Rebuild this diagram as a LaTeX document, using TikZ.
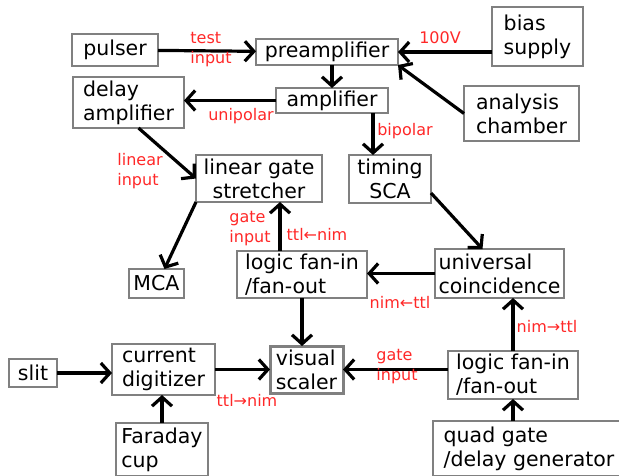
\documentclass[tikz,border=0pt]{standalone}
\usepackage{fontspec}
\setmainfont{DejaVu Sans}
\usetikzlibrary{arrows.meta,calc}
\definecolor{boxgray}{RGB}{128,128,128}
\definecolor{lblred}{RGB}{255,40,40}
\tikzset{
  box/.style={draw=boxgray, line width=2pt, fill=white, align=left, inner sep=0pt, outer sep=0pt, font=\fontsize{20.5}{24}\selectfont},
  arr/.style={-{Straight Barb[length=9pt, width=20pt]}, line width=3.2pt, draw=black},
  lbl/.style={text=lblred, align=left, inner sep=0pt, font=\fontsize{16}{20}\selectfont},
}
\begin{document}
\begin{tikzpicture}[x=1pt, y=-1pt]
    \useasboundingbox (0,0) rectangle (619,476);
    % boxes, top part
    \node[box, minimum width=86pt, minimum height=32pt] (pulser) at (115,50) {pulser};
    \node[box, minimum width=142pt, minimum height=26pt] (preamp) at (327,52) {preamplifier};
    \node[box, minimum width=91pt, minimum height=59pt] (bias) at (537.5,36.5) {bias\\supply};
    \node[box, minimum width=115pt, minimum height=55pt] (chamber) at (521.5,113.5) {analysis\\chamber};
    \node[box, minimum width=112pt, minimum height=25pt] (amp) at (332,100.5) {amplifier};
    \node[box, minimum width=111pt, minimum height=51pt] (delay) at (128.5,102.5) {delay\\amplifier};
    \node[box, align=center, minimum width=126pt, minimum height=47pt] (stretch) at (259,178.5) {linear gate\\stretcher};
    \node[box, align=center, minimum width=82pt, minimum height=48pt] (sca) at (390,179) {timing\\SCA};
    \node[box, minimum width=55pt, minimum height=29pt] (mca) at (156.5,283.5) {MCA};
    \node[box, minimum width=130pt, minimum height=47pt] (fanA) at (302,274.5) {logic fan-in\\/fan-out};
    \node[box, minimum width=129pt, minimum height=49pt] (coinc) at (499.5,273.5) {universal\\coincidence};
    % boxes, bottom part
    \node[box, line width=3pt, minimum width=73pt, minimum height=47pt] (scaler) at (306.5,369.5) {visual\\scaler};
    \node[box, minimum width=103pt, minimum height=51pt] (digit) at (163.5,369.5) {current\\digitizer};
    \node[box, minimum width=48pt, minimum height=28pt] (slit) at (33,373) {slit};
    \node[box, minimum width=92pt, minimum height=53pt] (cup) at (162,449.5) {Faraday\\cup};
    \node[box, minimum width=130pt, minimum height=48pt] (fanB) at (513,375) {logic fan-in\\/fan-out};
    \node[box, minimum width=192pt, minimum height=55pt] (quad) at (529,448.5) {quad gate\\/delay generator};

    % connectors
    \draw[arr] (pulser) -- (preamp);
    \draw[arr] (bias.west |- preamp.east) -- (preamp.east);
    \draw[arr] (chamber.west) -- (preamp.south east);
    \draw[arr] (preamp.south -| amp.north) -- (amp.north);
    \draw[arr] (amp.west) -- (amp.west -| delay.east);
    \draw[arr] ([xshift=-15pt]amp.south east) -- ([xshift=-15pt]amp.south east |- sca.north);
    \draw[arr] ([xshift=10pt]delay.south) -- (stretch.west);
    \draw[arr] (stretch.south west) -- ([xshift=8pt]mca.north);
    \draw[arr] ([xshift=21pt]stretch.south |- fanA.north) -- ([xshift=21pt]stretch.south);
    \draw[arr] ([yshift=-14pt]sca.east) -- ([xshift=-17pt]coinc.north);
    \draw[arr] (coinc.west) -- (coinc.west -| fanA.east);
    \draw[arr] (fanA.south) -- (fanA.south |- scaler.north);
    \draw[arr] (slit.east) -- (slit.east -| digit.west);
    \draw[arr] (digit.east) -- (digit.east -| scaler.west);
    \draw[arr] (cup.north) -- (cup.north |- digit.south);
    \draw[arr] (fanB.west |- scaler.east) -- (scaler.east);
    \draw[arr] (fanB.north) -- (fanB.north |- coinc.south);
    \draw[arr] (quad.north -| fanB) -- (fanB.south);

    % signal labels
    \node[lbl] (ltest) at (211,50) {test\\input};
    \node[lbl] (lbias) at (440,38) {100V};
    \node[lbl] (luni) at (241,116) {unipolar};
    \node[lbl] (lbi) at (405,131) {bipolar};
    \node[lbl] (llin) at (140,171) {linear\\input};
    \node[lbl] (lgateA) at (250,229) {gate\\input};
    \node[lbl] (ltnA) at (317,234) {ttl←nim};
    \node[lbl] (lntA) at (400,302) {nim←ttl};
    \node[lbl] (ltnB) at (247,400) {ttl→nim};
    \node[lbl] (lgateB) at (397,367) {gate\\input};
    \node[lbl] (lntB) at (547,326) {nim→ttl};
\end{tikzpicture}
\end{document}
